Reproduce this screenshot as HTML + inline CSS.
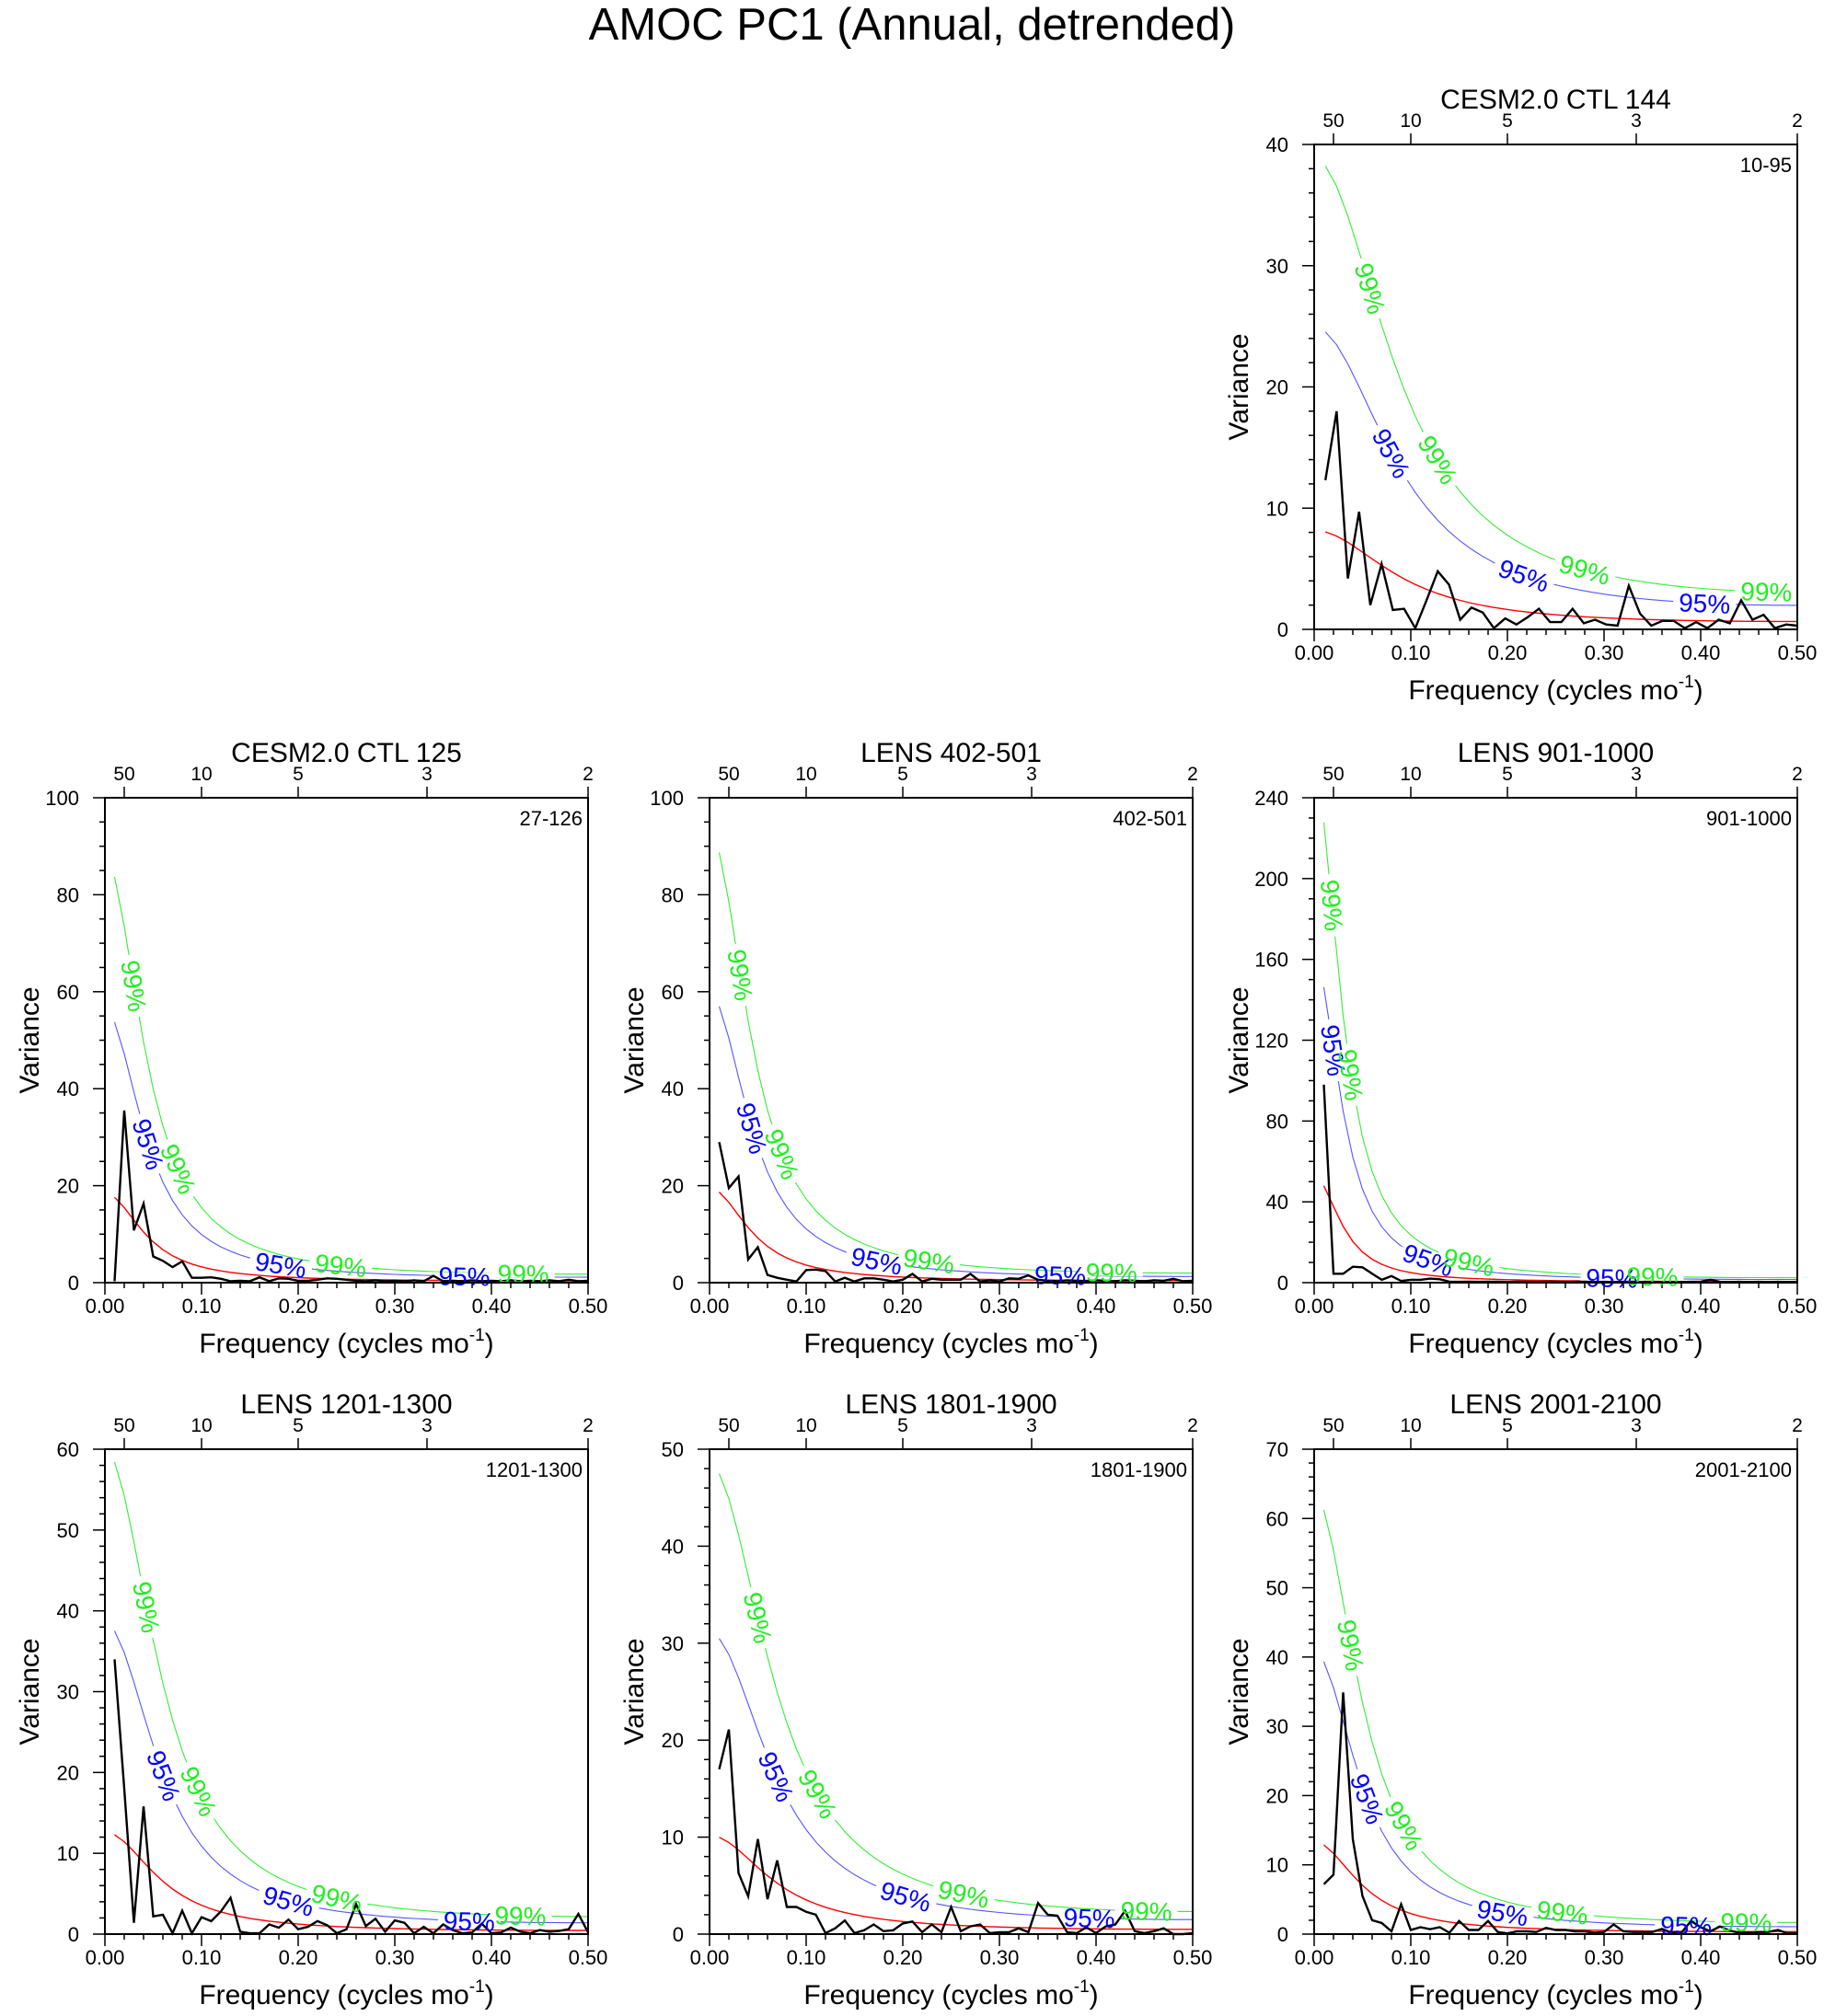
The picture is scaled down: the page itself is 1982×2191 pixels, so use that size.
<!DOCTYPE html>
<html>
<head>
<meta charset="utf-8">
<style>
  html,body{margin:0;padding:0;background:#fff;}
  svg{display:block;}
  text{font-family:"Liberation Sans", Arial, sans-serif;}
</style>
</head>
<body>
<svg id="fig" width="1982" height="2191" viewBox="0 0 1982 2191" xmlns="http://www.w3.org/2000/svg">
  <text x="991" y="43" font-size="49" text-anchor="middle">AMOC PC1 (Annual, detrended)</text>
</svg>
<script>
// ---- data ----
const panelTitles = ["CESM2.0 CTL 144","CESM2.0 CTL 125","LENS 402-501","LENS 901-1000","LENS 1201-1300","LENS 1801-1900","LENS 2001-2100"];
const rangeLabels = ["10-95","27-126","402-501","901-1000","1201-1300","1801-1900","2001-2100"];
const nYears = [86,100,100,100,100,100,100];
const yMaxes = [40,100,100,240,60,50,70];
const yMajorSteps = [10,20,20,40,10,10,10];
const yMinorSteps = [2,5,5,10,2,2,2];
const xTickLabels = ["0.00","0.10","0.20","0.30","0.40","0.50"];
const periodLabels = [50,10,5,3,2];
const redRho = [0.56,0.752,0.745,0.82,0.68,0.64,0.72];
const redEnd = [0.65,0.37,0.417,0.516,0.458,0.491,0.354];
const sig95Factor = [3.05,3.05,3.05,3.05,3.05,3.05,3.05];
const sig99Factor = [4.75,4.75,4.75,4.75,4.75,4.75,4.75];

const spec0 = [12.3,18,4.2,9.7,2,5.4,1.6,1.7,0.1,2.4,4.8,3.7,0.8,1.8,1.4,0.1,0.9,0.4,1.0,1.7,0.6,0.6,1.7,0.5,0.8,0.4,0.3,3.6,1.3,0.3,0.7,0.7,0.1,0.6,0.1,0.8,0.5,2.4,0.8,1.2,0.1,0.4,0.3];
const spec1 = [0.3,35.5,10.8,16.3,5.4,4.5,3.2,4.4,1.0,1.0,1.1,0.8,0.3,0.4,0.3,1.1,0.3,0.9,0.8,0.4,0.4,0.6,0.9,0.8,0.6,0.4,0.3,0.5,0.3,0.4,0.3,0.5,0.3,1.4,0.3,0.4,0.3,0.5,0.3,0.4,0.3,0.5,0.3,0.4,0.3,0.5,0.3,0.6,0.3,0.4];
const spec2 = [29,19.5,21.9,4.8,7.3,1.6,1.0,0.6,0.25,2.6,2.7,2.4,0.25,1.0,0.25,0.9,0.9,0.6,0.25,0.6,1.8,0.25,0.8,0.6,0.6,0.6,1.8,0.25,0.5,0.25,0.9,0.8,1.5,0.6,0.4,0.3,0.5,0.4,0.3,0.5,0.4,0.3,0.5,0.4,0.3,0.5,0.4,0.8,0.3,0.4];
const spec3 = [98,4.4,4.4,7.9,7.6,4.4,1.4,3.3,0.8,1.4,1.4,2.0,1.7,0.5,0.4,0.5,0.4,0.5,0.4,0.3,0.5,0.4,0.3,0.5,0.4,0.3,0.4,0.5,0.3,0.4,0.3,0.4,0.5,0.3,0.4,0.3,0.4,0.3,0.4,0.5,1.4,0.4,0.3,0.4,0.3,0.4,0.3,0.4,0.3,0.4];
const spec4 = [34,18,1.4,15.8,2.2,2.4,0.1,2.9,0.1,2.1,1.6,2.8,4.5,0.3,0.1,0.1,1.2,0.8,1.8,0.6,0.9,1.6,1.1,0.1,0.6,3.7,1.0,1.9,0.3,1.7,1.4,0.1,0.9,0.1,1.2,0.5,0.1,0.2,1.3,0.1,0.2,0.8,0.3,0.1,0.5,0.3,0.4,0.6,2.5,0.2];
const spec5 = [17,21.1,6.3,3.9,9.8,3.6,7.6,2.8,2.8,2.3,2.0,0.1,0.6,1.4,0.1,0.4,1.0,0.3,0.4,1.1,1.3,0.2,1.0,0.2,2.8,0.3,0.8,1.0,0.1,0.2,0.2,0.6,0.2,3.2,2.0,1.9,0.2,0.1,0.7,0.1,0.8,1.0,2.4,0.3,0.1,0.3,0.6,0,0,0.1];
const spec6 = [7.2,8.6,34.9,13.7,5.5,2.0,1.6,0.4,4.3,0.6,1.0,0.7,1.0,0.2,1.9,0.6,0.6,1.9,0.3,0.1,0.4,0.4,0.3,0.9,0.6,0.6,0.4,0.4,0.2,0.3,1.4,0.4,0.3,0.3,0.3,0.75,0.2,0.2,1.9,1.0,0.4,1.1,0.5,0.2,0.2,0.3,0.3,0.6,0.1,0.1];
const spectra = [spec0,spec1,spec2,spec3,spec4,spec5,spec6];

const label99Freqs = [[0.058,0.128,0.28,0.468],[0.030,0.076,0.244,0.433],[0.032,0.075,0.227,0.416],[0.0185,0.038,0.16,0.35],[0.043,0.097,0.24,0.43],[0.05,0.112,0.263,0.452],[0.038,0.093,0.257,0.447]];
const label95Freqs = [[0.08,0.217,0.404],[0.045,0.182,0.372],[0.044,0.173,0.363],[0.02,0.118,0.308],[0.061,0.19,0.377],[0.069,0.203,0.393],[0.055,0.195,0.385]];

// ---- layout ----
const colX = [114,771,1428];
const rowY = [157,867,1575];
const panelCell = [[2,0],[0,1],[1,1],[2,1],[0,2],[1,2],[2,2]];
const PW = 525, PH = 527;
const NS = "http://www.w3.org/2000/svg";
const svg = document.getElementById("fig");

function el(tag, attrs, parent){
  const e = document.createElementNS(NS, tag);
  for (const k in attrs) e.setAttribute(k, attrs[k]);
  (parent||svg).appendChild(e);
  return e;
}

function redSpec(i, f){
  const r = redRho[i];
  return redEnd[i]*(1+r)*(1+r)/(1+r*r-2*r*Math.cos(2*Math.PI*f));
}

function drawPanel(i){
  const L = colX[panelCell[i][0]], T = rowY[panelCell[i][1]];
  const R = L+PW, B = T+PH;
  const ymax = yMaxes[i];
  const sx = f => L + f/0.5*PW;
  const sy = v => B - v/ymax*PH;
  const g = el("g", {});
  
  

  const t = el("text", {x:(L+R)/2, y:T-39, "font-size":30, "text-anchor":"middle"}, g);
  t.textContent = panelTitles[i];
  
  
  const rl = el("text", {x:R-6, y:T+30, "font-size":22, "text-anchor":"end"}, g);
  rl.textContent = rangeLabels[i];
  
  

  const nMinor = Math.round(ymax / yMinorSteps[i]);
  for (let k=0;k<=nMinor;k++){
    const v = k*yMinorSteps[i];
    const y = sy(v);
    const major = Math.abs(v/yMajorSteps[i] - Math.round(v/yMajorSteps[i]))<1e-6;
    const tk = el("line", {x1:L-(major?13:6), x2:L, y1:y, y2:y, stroke:"#000", "stroke-width":1.5}, g);
    
    
    if (major){
      const tl = el("text", {x:L-28, y:y+8, "font-size":22, "text-anchor":"end"}, g);
      tl.textContent = String(v);
      
      
    }
  }
  for (let k=0;k<=25;k++){
    const f = k*0.02;
    const x = sx(f);
    const major = k%5===0;
    const tk = el("line", {x1:x, x2:x, y1:B, y2:B+(major?13:6), stroke:"#000", "stroke-width":1.5}, g);
    
    
    if (major){
      const tl = el("text", {x:x, y:B+33, "font-size":22, "text-anchor":"middle"}, g);
      tl.textContent = xTickLabels[k/5];
      
      
    }
  }
  periodLabels.forEach(p=>{
    const x = sx(1/p);
    const tk = el("line", {x1:x, x2:x, y1:T, y2:T-12, stroke:"#000", "stroke-width":1.5}, g);
    
    
    const tl = el("text", {x:x, y:T-19, "font-size":21, "text-anchor":"middle"}, g);
    tl.textContent = String(p);
    
    
  });

  const xt = el("text", {x:(L+R)/2, y:B+76, "font-size":30, "text-anchor":"middle"}, g);
  
  
  xt.innerHTML = 'Frequency (cycles mo<tspan font-size="19" dy="-13">-1</tspan><tspan dy="13">)</tspan>';
  const yt = el("text", {x:0, y:0, "font-size":30, "text-anchor":"middle", transform:`translate(${L-72},${(T+B)/2}) rotate(-90)`}, g);
  yt.textContent = "Variance";
  
  

  const N = nYears[i];
  const freqs = spectra[i].map((v,k)=>(k+1)/N);
  const mk = fn => freqs.map(f=>sx(f).toFixed(1)+","+sy(fn(f)).toFixed(1)).join(" ");
  const red = el("polyline", {points:mk(f=>redSpec(i,f)), fill:"none", stroke:"#ff0000", "stroke-width":1.4}, g);
  
  
  const c95 = el("polyline", {points:mk(f=>redSpec(i,f)*sig95Factor[i]), fill:"none", stroke:"#5555ff", "stroke-width":1.1}, g);
  
  
  const c99 = el("polyline", {points:mk(f=>redSpec(i,f)*sig99Factor[i]), fill:"none", stroke:"#33ee33", "stroke-width":1.1}, g);
  
  

  const labels = [];
  label95Freqs[i].forEach(f=>labels.push([f, sig95Factor[i], "95%", "#0000ff", "sig95-label"]));
  label99Freqs[i].forEach(f=>labels.push([f, sig99Factor[i], "99%", "#22ee22", "sig99-label"]));
  const placed = labels.map(([f,fac,txt,col,nm])=>{
    const x = sx(f), y = sy(redSpec(i,f)*fac);
    const d = 0.002;
    const dx = sx(f+d)-sx(f-d), dy = sy(redSpec(i,f+d)*fac)-sy(redSpec(i,f-d)*fac);
    const ang = Math.atan2(dy,dx)*180/Math.PI;
    const gap = el("rect", {x:-34, y:-4, width:68, height:8, fill:"#fff", transform:`translate(${x},${y}) rotate(${ang})`}, g);
    
    
    return [x,y,ang,txt,col,nm];
  });

  const dl = el("polyline", {points:freqs.map((f,k)=>sx(f).toFixed(1)+","+sy(spectra[i][k]).toFixed(1)).join(" "), fill:"none", stroke:"#000", "stroke-width":2.4, "stroke-linejoin":"miter"}, g);
  
  

  placed.forEach(([x,y,ang,txt,col,nm])=>{
    const lt = el("text", {x:0, y:10, "font-size":28, "text-anchor":"middle", fill:col, transform:`translate(${x},${y}) rotate(${ang})`}, g);
    lt.textContent = txt;
    
    
  });

  const fr = el("rect", {x:L, y:T, width:PW, height:PH, fill:"none", stroke:"#000", "stroke-width":2}, g);
  
  
}

for (let i=0;i<7;i++) drawPanel(i);
</script>
</body>
</html>
